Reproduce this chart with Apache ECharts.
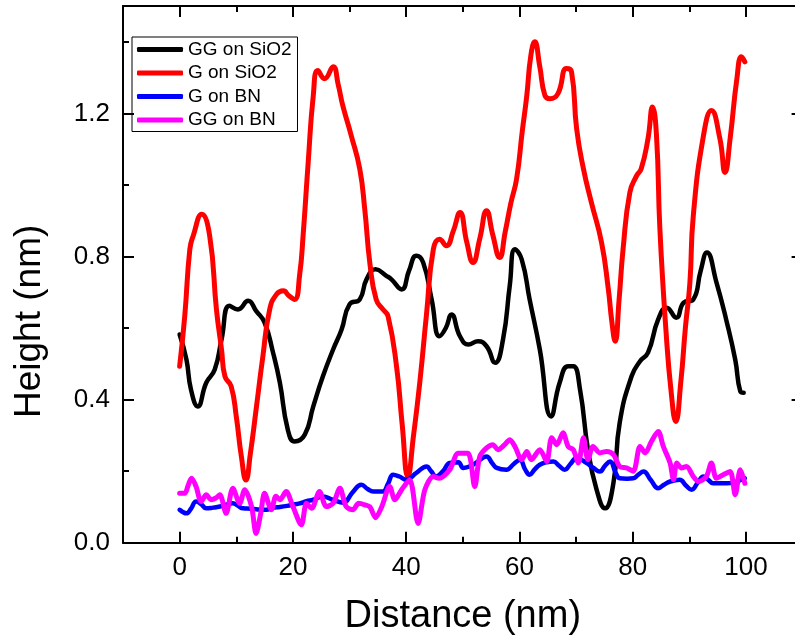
<!DOCTYPE html>
<html>
<head>
<meta charset="utf-8">
<script src="https://cdn.jsdelivr.net/npm/echarts@6/dist/echarts.min.js"></script>
<style>html,body{margin:0;padding:0;background:#fff}#c{width:795px;height:641px}</style>
</head>
<body>
<div id="c"></div>
<script>
// ---- data ----
const seriesNames = ['GG on SiO2', 'G on SiO2', 'G on BN', 'GG on BN'];
const seriesColors = ['#000000', '#ff0000', '#0000ff', '#ff00ff'];

const ggSiO2X = [0,1.2,2.0,3.2,4.7,6.2,7.4,8.8,10.3,12.1,13.5,15.0,16.5,17.7,19.1,20.3,22.1,23.6,25.3,27.1,28.6,30.0,31.8,33.0,34.6,36.5,37.4,39.2,40.5,41.8,43.0,44.5,45.9,47.0,48.0,49.5,51.0,52.7,54.2,55.7,57.1,58.3,59.2,60.4,61.8,63.6,65.6,67.1,68.6,69.5,70.7,72.1,73.6,75.1,76.6,77.7,79.8,81.3,82.7,84.5,86.0,87.7,89.0,90.7,92.0,93.1,94.8,96.5,98.1,99.0,99.6];
const ggSiO2Y = [0.582,0.512,0.428,0.381,0.447,0.484,0.568,0.662,0.652,0.676,0.648,0.615,0.531,0.447,0.316,0.283,0.302,0.381,0.465,0.540,0.596,0.666,0.680,0.736,0.764,0.746,0.736,0.708,0.760,0.802,0.783,0.680,0.577,0.600,0.638,0.577,0.554,0.563,0.549,0.503,0.568,0.720,0.820,0.792,0.680,0.540,0.353,0.447,0.493,0.493,0.428,0.260,0.150,0.096,0.167,0.335,0.465,0.507,0.531,0.624,0.657,0.629,0.671,0.680,0.760,0.811,0.727,0.624,0.512,0.423,0.419];

const gSiO2X = [0,0.9,1.8,2.4,3.9,5.3,6.5,7.4,8.0,9.1,10.0,10.9,11.7,12.5,13.5,14.7,15.9,17.1,18.3,19.3,20.3,21.2,21.8,22.7,23.6,24.4,25.6,27.1,28.0,28.8,30.3,31.8,32.7,33.6,34.7,35.9,36.8,38.3,39.3,40.3,41.3,42.4,43.6,44.8,45.9,47.1,48.3,49.5,50.7,51.8,53.0,54.2,55.3,56.5,57.5,58.5,59.5,60.5,61.3,62.0,62.7,63.6,64.5,65.4,66.8,68.3,69.2,70.1,71.3,72.7,74.5,75.7,76.3,76.9,77.6,78.3,79.5,80.7,81.5,82.7,83.5,84.2,84.8,85.9,86.8,87.6,88.5,89.3,90.1,90.7,92.5,93.9,95.4,96.3,97.2,98.4,99.2,99.8];
const gSiO2Y = [0.493,0.633,0.820,0.858,0.918,0.858,0.652,0.540,0.465,0.437,0.353,0.241,0.175,0.250,0.372,0.521,0.652,0.694,0.704,0.690,0.680,0.750,0.858,1.063,1.250,1.320,1.297,1.330,1.280,1.222,1.138,1.045,0.930,0.780,0.680,0.652,0.633,0.493,0.330,0.185,0.300,0.447,0.640,0.820,0.848,0.830,0.870,0.923,0.840,0.783,0.850,0.928,0.860,0.797,0.870,0.950,1.017,1.150,1.250,1.360,1.400,1.330,1.250,1.241,1.255,1.325,1.316,1.157,1.045,0.951,0.839,0.708,0.620,0.563,0.680,0.820,0.979,1.026,1.045,1.129,1.218,1.138,0.877,0.587,0.420,0.339,0.450,0.600,0.727,0.914,1.138,1.208,1.129,1.035,1.129,1.297,1.358,1.344];

const gBNX = [0,1.2,2.0,2.9,3.8,4.7,5.9,7.1,8.2,9.4,10.3,11.2,12.5,13.8,15.3,16.5,17.7,19.0,20.0,21.2,22.4,23.6,25.3,27.0,28.9,30.5,32.1,33.2,34.2,35.9,36.8,37.7,38.8,40.0,41.8,43.6,44.4,45.3,46.5,47.7,49.2,50.1,51.5,52.5,54.2,55.2,56.0,57.7,59.0,60.1,61.0,61.8,62.7,63.6,64.8,66.0,67.0,68.0,69.0,70.1,71.8,73.0,74.2,75.1,76.0,77.0,77.7,79.0,80.1,81.0,81.9,83.2,84.5,85.5,86.6,88.3,89.4,90.4,91.5,92.5,93.4,94.2,96.6,98.5,99.8];
const gBNY = [0.092,0.082,0.095,0.115,0.108,0.096,0.098,0.101,0.106,0.110,0.103,0.096,0.095,0.093,0.092,0.098,0.100,0.103,0.106,0.110,0.116,0.120,0.129,0.120,0.112,0.140,0.162,0.150,0.143,0.143,0.165,0.190,0.185,0.176,0.195,0.213,0.200,0.185,0.200,0.223,0.225,0.209,0.215,0.225,0.241,0.222,0.209,0.204,0.220,0.232,0.205,0.190,0.205,0.218,0.225,0.227,0.215,0.204,0.220,0.237,0.223,0.210,0.199,0.215,0.227,0.195,0.180,0.179,0.180,0.190,0.199,0.175,0.152,0.162,0.171,0.176,0.160,0.148,0.168,0.185,0.175,0.166,0.166,0.172,0.180];

const ggBNX = [0,0.9,1.5,2.1,2.9,3.8,4.7,5.6,6.4,7.1,8.2,9.4,10.6,11.5,12.7,13.5,14.3,15.0,16.2,17.0,17.7,18.8,20.0,21.5,22.4,23.3,24.7,25.9,27.1,28.3,29.4,30.6,31.6,32.7,33.6,34.6,35.7,37.1,38.0,39.2,40.6,42.1,43.3,44.8,45.8,47.7,49.2,50.9,52.1,53.0,54.2,55.3,56.2,57.4,58.3,59.2,60.4,61.3,62.1,63.6,64.8,65.7,66.6,67.7,68.6,69.5,70.4,71.3,72.1,73.0,74.2,75.4,76.6,77.7,78.9,80.1,81.3,82.2,83.3,84.5,85.4,86.6,87.2,87.8,88.6,89.5,90.7,91.6,93.0,93.9,94.8,96.0,97.2,98.1,99.0,99.8];
const ggBNY = [0.138,0.138,0.160,0.180,0.157,0.115,0.134,0.120,0.125,0.134,0.082,0.152,0.110,0.148,0.101,0.026,0.080,0.138,0.092,0.130,0.120,0.143,0.101,0.050,0.110,0.096,0.143,0.101,0.110,0.152,0.101,0.092,0.110,0.106,0.100,0.070,0.101,0.157,0.120,0.148,0.176,0.054,0.148,0.185,0.180,0.204,0.250,0.250,0.157,0.241,0.265,0.274,0.260,0.274,0.288,0.269,0.232,0.255,0.232,0.260,0.227,0.293,0.274,0.307,0.269,0.260,0.223,0.293,0.232,0.269,0.251,0.255,0.246,0.213,0.209,0.200,0.269,0.251,0.283,0.311,0.269,0.223,0.176,0.223,0.209,0.213,0.185,0.171,0.185,0.223,0.180,0.190,0.199,0.134,0.204,0.166];

const xMajorTicks = [0, 20, 40, 60, 80, 100];
const xMinorTicks = [10, 30, 50, 70, 90];
const yMajorTicks = [0, 0.4, 0.8, 1.2];
const yMinorTicks = [0.2, 0.6, 1.0, 1.4];
const xTitle = 'Distance (nm)';
const yTitle = 'Height (nm)';

// ---- chart ----
const FONT = '"Liberation Sans", Arial, sans-serif';
function pairs(xs, ys) { return xs.map((x, i) => [x, ys[i]]); }

function axis(dim, pos, ticks, len, withLine, withLabel, extra) {
  const a = {
    type: 'value', gridIndex: 0, position: pos,
    min: dim === 'x' ? -10 : 0, max: dim === 'x' ? 110 : 1.5,
    axisLine: { show: withLine, onZero: false, lineStyle: { color: '#000', width: 2 } },
    axisTick: { show: true, inside: true, length: len, customValues: ticks, lineStyle: { color: '#000', width: 2 } },
    axisLabel: { show: withLabel, customValues: ticks, color: '#000', fontSize: 26, fontFamily: FONT,
                 margin: dim === 'x' ? 12 : 13,
                 formatter: dim === 'x' ? (v => String(v)) : (v => v.toFixed(1)) },
    splitLine: { show: false }
  };
  return Object.assign(a, extra || {});
}

const xAxes = [
  axis('x', 'bottom', xMajorTicks, 11, true, true, {
    name: xTitle, nameLocation: 'middle', nameGap: 55,
    nameTextStyle: { fontSize: 38, color: '#000', fontFamily: FONT }
  }),
  axis('x', 'bottom', xMinorTicks, 6, false, false),
  axis('x', 'top', xMajorTicks, 11, true, false),
  axis('x', 'top', xMinorTicks, 6, false, false)
];
const yAxes = [
  axis('y', 'left', yMajorTicks, 11, true, true, {
    name: yTitle, nameLocation: 'middle', nameGap: 75, nameRotate: 90,
    nameTextStyle: { fontSize: 37, color: '#000', fontFamily: FONT, padding: [0, 94, 0, 0] }
  }),
  axis('y', 'left', yMinorTicks, 6, false, false),
  axis('y', 'right', yMajorTicks, 11, true, false),
  axis('y', 'right', yMinorTicks, 6, false, false)
];

const dataSets = [pairs(ggSiO2X, ggSiO2Y), pairs(gSiO2X, gSiO2Y), pairs(gBNX, gBNY), pairs(ggBNX, ggBNY)];
const widths = [4.5, 5, 4.5, 5];
const smooths = [0.5, 0.5, 0.45, 0.3];

const chart = echarts.init(document.getElementById('c'), null, { renderer: 'canvas' });
chart.setOption({
  animation: false,
  backgroundColor: '#fff',
  grid: { left: 123, top: 6, right: -7.6, bottom: 98.3, containLabel: false, outerBoundsMode: 'none' },
  xAxis: xAxes,
  yAxis: yAxes,
  legend: {
    orient: 'vertical', left: 132, top: 37,
    padding: [3, 6, 2, 5], itemGap: 4.5,
    borderColor: '#000', borderWidth: 1,
    itemWidth: 46, itemHeight: 5,
    textStyle: { fontSize: 19, color: '#000', fontFamily: FONT },
    data: seriesNames.map(n => ({ name: n, icon: 'roundRect' }))
  },
  series: seriesNames.map((n, i) => ({
    name: n, type: 'line', xAxisIndex: 0, yAxisIndex: 0,
    data: dataSets[i], symbol: 'none', showSymbol: false,
    smooth: smooths[i],
    color: seriesColors[i],
    lineStyle: { color: seriesColors[i], width: widths[i], cap: 'round', join: 'round' }
  }))
});
</script>
</body>
</html>
